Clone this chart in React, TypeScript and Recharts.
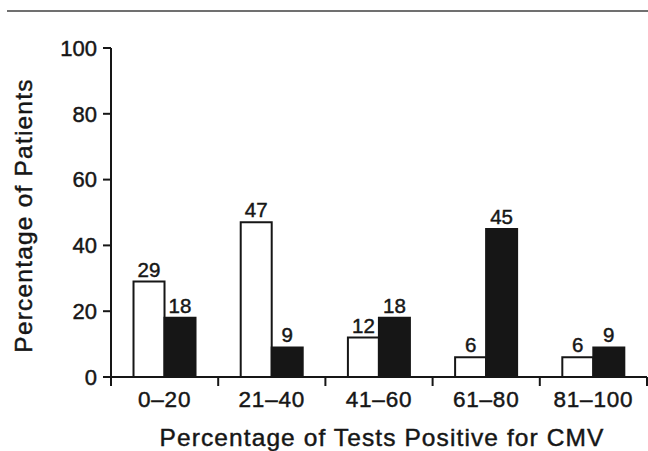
import React from 'react';
import { BarChart, Bar, XAxis, YAxis, LabelList } from 'recharts';

const categories = ['0–20', '21–40', '41–60', '61–80', '81–100'];
const cmvNegative = [29, 47, 12, 6, 6];
const cmvPositive = [18, 9, 18, 45, 9];
const yTicks = [0, 20, 40, 60, 80, 100];

const data = categories.map((c, i) => ({ cat: c, a: cmvNegative[i], b: cmvPositive[i] }));

const FONT = '"Liberation Sans", Arial, Helvetica, sans-serif';
const INK = '#161616';
const TW = 0.45;

const XTick = (props: any) => {
  const { x, y, payload, index } = props;
  const off = payload.offset || 0;
  const last = index === categories.length - 1;
  return (
    <g>
      <line x1={x - off} x2={x - off} y1={y} y2={y + 9} stroke={INK} strokeWidth={2} />
      {last && <line x1={x + off} x2={x + off} y1={y} y2={y + 9} stroke={INK} strokeWidth={2} />}
      <text x={x} y={y + 30} textAnchor="middle" fontSize={22.5} letterSpacing={0.8} fill={INK} stroke={INK} strokeWidth={TW} fontFamily={FONT}>
        {payload.value}
      </text>
    </g>
  );
};

const XLabel = (props: any) => {
  const vb = props.viewBox || {};
  return (
    <text x={vb.x + vb.width / 2 + 3} y={vb.y + 69} textAnchor="middle" fontSize={24.5} letterSpacing={1.1} fill={INK} stroke={INK} strokeWidth={TW} fontFamily={FONT}>
      Percentage of Tests Positive for CMV
    </text>
  );
};

const YLabel = (props: any) => {
  const vb = props.viewBox || {};
  const cx = vb.x + 32;
  const cy = vb.y + vb.height / 2 + 3;
  return (
    <text x={cx} y={cy} transform={`rotate(-90 ${cx} ${cy})`} textAnchor="middle" fontSize={24.5} letterSpacing={1.2} fill={INK} stroke={INK} strokeWidth={TW} fontFamily={FONT}>
      Percentage of Patients
    </text>
  );
};

export default function App() {
  return (
    <div style={{ position: 'absolute', left: 0, top: 0, width: 648, height: 451, background: '#fff', overflow: 'hidden' }}>
      <div style={{ position: 'absolute', left: 7, top: 10, width: 641, height: 2, background: '#707070' }} />
      <BarChart
        width={648}
        height={451}
        data={data}
        margin={{ top: 48, right: 1, left: 0, bottom: 0 }}
        barCategoryGap="21%"
        barGap={0}
      >
        <XAxis
          dataKey="cat"
          height={74}
          axisLine={{ stroke: INK, strokeWidth: 2 }}
          tickLine={false}
          tickSize={0}
          tickMargin={0}
          tick={<XTick />}
          interval={0}
          label={<XLabel />}
        />
        <YAxis
          width={111}
          domain={[0, 100]}
          ticks={yTicks}
          interval={0}
          axisLine={{ stroke: INK, strokeWidth: 2 }}
          tickLine={{ stroke: INK, strokeWidth: 2 }}
          tickSize={8}
          tickMargin={6}
          tick={{ fontSize: 22, fill: INK, stroke: INK, strokeWidth: TW, fontFamily: FONT }}
          label={<YLabel />}
        />
        <Bar dataKey="a" fill="#ffffff" stroke={INK} strokeWidth={2} isAnimationActive={false}>
          <LabelList dataKey="a" position="top" offset={5} fontSize={20.5} fill={INK} stroke={INK} strokeWidth={TW} fontFamily={FONT} />
        </Bar>
        <Bar dataKey="b" fill={INK} stroke={INK} strokeWidth={2} isAnimationActive={false}>
          <LabelList dataKey="b" position="top" offset={5} fontSize={20.5} fill={INK} stroke={INK} strokeWidth={TW} fontFamily={FONT} />
        </Bar>
      </BarChart>
    </div>
  );
}
